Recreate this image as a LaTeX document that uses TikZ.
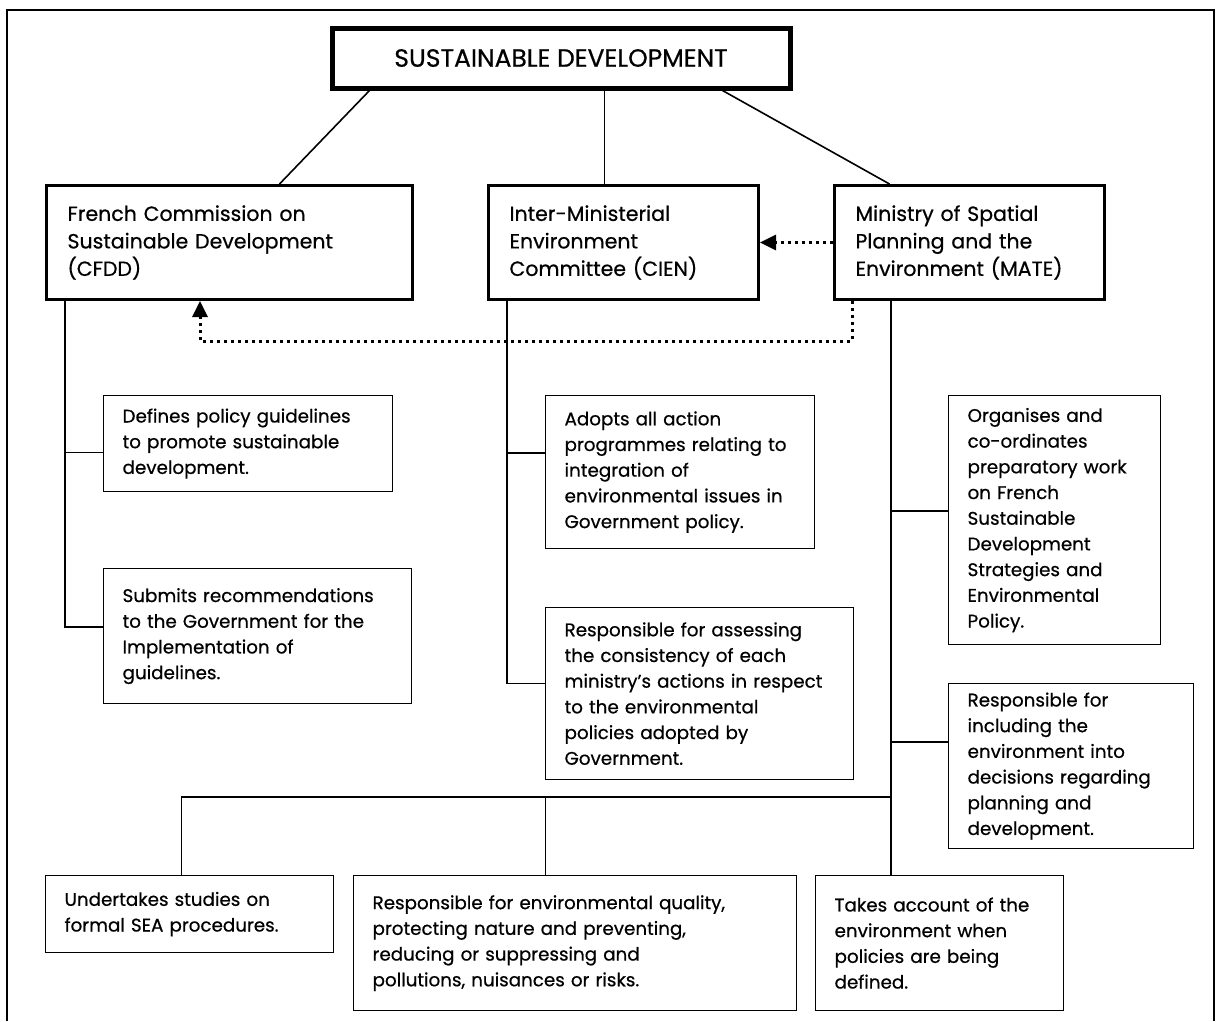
\documentclass[tikz,border=0pt]{standalone}
\usepackage{fontspec}
\setmainfont{Poppins}[FakeBold=0.6]
\usepackage{tikz}
\usetikzlibrary{arrows.meta, calc}

\begin{document}
\begin{tikzpicture}[x=1pt, y=-1pt]
        \tikzset{top/.style = {draw, line width=5pt, minimum width=458pt, minimum height=60pt, font=\fontsize{25}{28}\selectfont}}
        \tikzset{head/.style = {draw, line width=3pt, anchor=north west, minimum height=114pt, align=left, inner xsep=21pt, font=\fontsize{20.5}{27.5}\selectfont}}
        \tikzset{note/.style = {draw, line width=1.2pt, anchor=north west, align=left, inner xsep=19pt, font=\fontsize{18.3}{25.7}\selectfont}}
        \tikzset{edge/.style = {-, line width=1.6pt}}
        \tikzset{ref/.style = {line width=3pt, dash pattern=on 3pt off 4pt, -{Triangle[length=16pt,width=15pt]}}}
        \useasboundingbox (0,0) rectangle (1218,1021);
        \draw[line width=2pt] (7,1021) |- (1214,10) -- (1214,1021);
        \node[top] (sd) at (561,58) {SUSTAINABLE DEVELOPMENT};
        \node[head, text width=324pt] (cfdd) at (45,184) {French Commission on\\Sustainable Development\\(CFDD)};
        \node[head, text width=228pt] (cien) at (487,184) {Inter-Ministerial\\Environment\\Committee (CIEN)};
        \node[head, text width=228pt] (mate) at (833,184) {Ministry of Spatial\\Planning and the\\Environment (MATE)};
        \node[note, text width=251pt, minimum height=96pt] (def) at (103,395) {Defines policy guidelines\\to promote sustainable\\development.};
        \node[note, text width=270pt, minimum height=135pt] (sub) at (103,568) {Submits recommendations\\to the Government for the\\Implementation of\\guidelines.};
        \node[note, text width=231pt, minimum height=153pt] (adopt) at (545,395) {Adopts all action\\programmes relating to\\integration of\\environmental issues in\\Government policy.};
        \node[note, text width=270pt, minimum height=172pt] (assess) at (545,607) {Responsible for assessing\\the consistency of each\\ministry’s actions in respect\\to the environmental\\policies adopted by\\Government.};
        \node[note, text width=174pt, minimum height=249pt] (organ) at (948,395) {Organises and\\co-ordinates\\preparatory work\\on French\\Sustainable\\Development\\Strategies and\\Environmental\\Policy.};
        \node[note, text width=207pt, minimum height=165pt] (incl) at (948,683) {Responsible for\\including the\\environment into\\decisions regarding\\planning and\\development.};
        \node[note, text width=250pt, minimum height=77pt] (study) at (45,875) {Undertakes studies on\\formal SEA procedures.};
        \node[note, text width=405pt, minimum height=135pt] (qual) at (353,875) {Responsible for environmental quality,\\protecting nature and preventing,\\reducing or suppressing and\\pollutions, nuisances or risks.};
        \node[note, text width=210pt, minimum height=135pt] (take) at (815,875) {Takes account of the\\environment when\\policies are being\\defined.};
        \coordinate (c) at ([xshift=-19pt]cien.north);
        \coordinate (t1) at ([xshift=20pt]cfdd.south west);
        \coordinate (t2) at ([xshift=20pt]cien.south west);
        \coordinate (t3) at ([xshift=58pt]mate.south west);
        \coordinate (fork) at (t3 |- 0,797);
        \coordinate (q) at ([xshift=-29.5pt]qual.north);
        \draw[edge] ([xshift=40pt]sd.south west) to ([xshift=50pt]cfdd.north);
        \draw[edge] (c |- sd.south) to (c);
        \draw[edge] ([xshift=-70pt]sd.south east) to ([xshift=-80pt]mate.north);
        \draw[edge] (t1) |- ([yshift=9pt]sub.west);
        \draw[edge] ([yshift=-9pt]def.west) to ([yshift=-9pt]def.west -| t1);
        \draw[edge] (t2) |- ([yshift=10pt]assess.west);
        \draw[edge] ([yshift=19pt]adopt.west) to ([yshift=19pt]adopt.west -| t2);
        \draw[edge] (t3) to (t3 |- take.north);
        \draw[edge] ([yshift=9pt]organ.west) to ([yshift=9pt]organ.west -| t3);
        \draw[edge] ([yshift=24pt]incl.west) to ([yshift=24pt]incl.west -| t3);
        \draw[edge] (fork) -| ([xshift=-8pt]study.north);
        \draw[edge] (fork -| q) to (q);
        \draw[ref] (mate.west) to (cien.east);
        \draw[ref] ([xshift=19pt]mate.south west) -- ++(0,40) -| ([xshift=155pt]cfdd.south west);
      \end{tikzpicture}
\end{document}
